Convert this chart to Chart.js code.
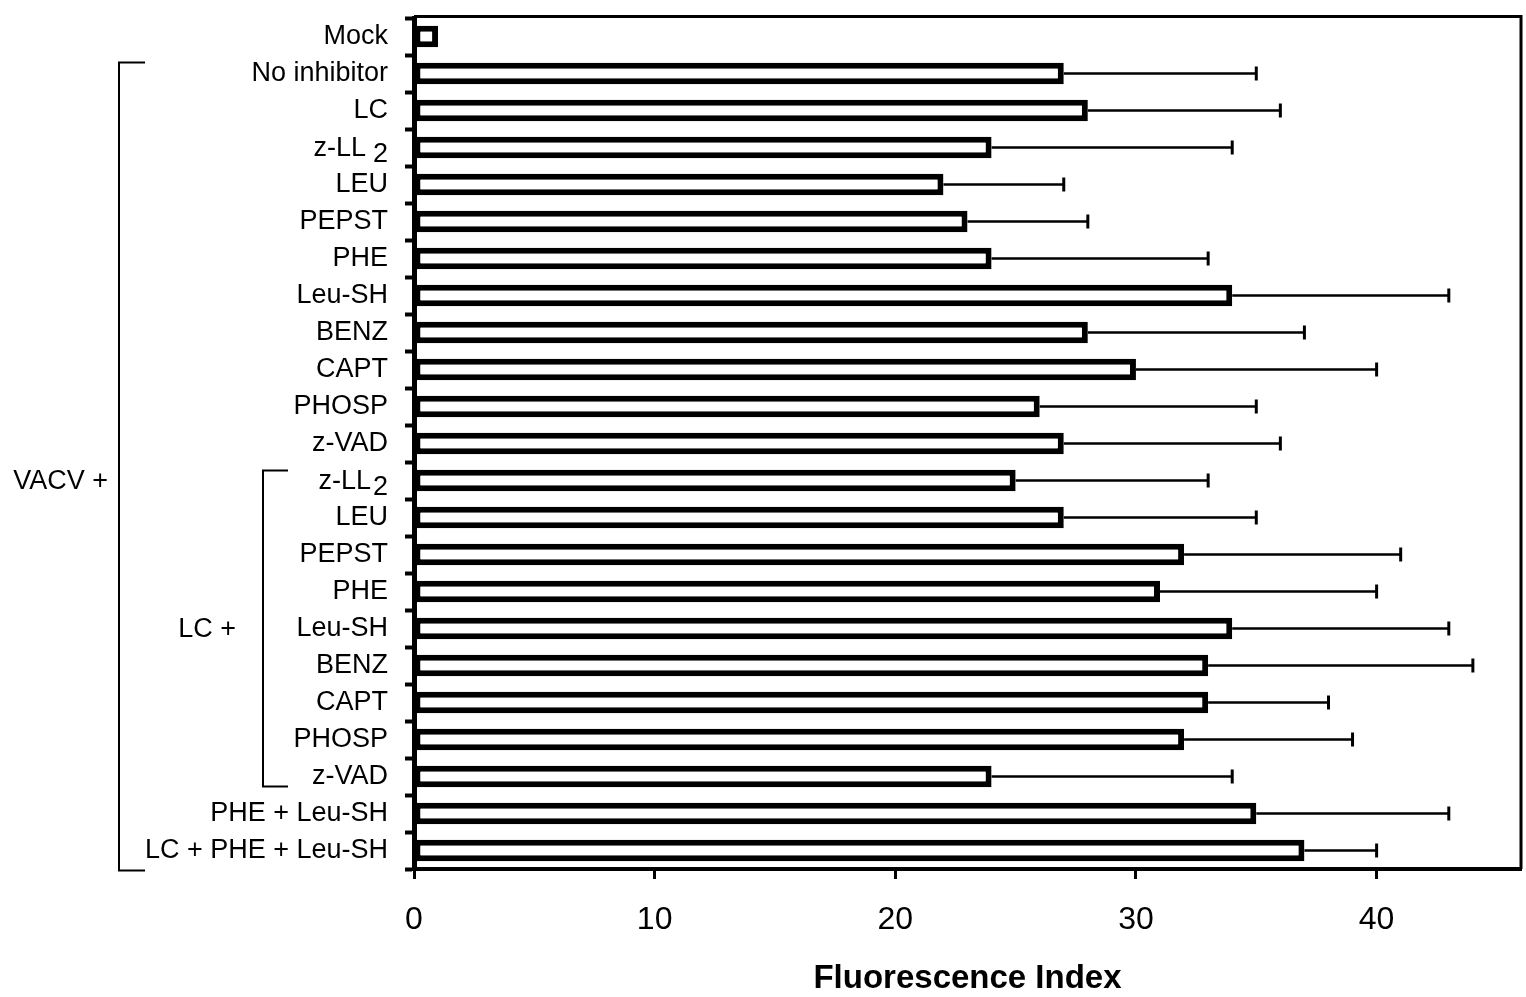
<!DOCTYPE html>
<html>
<head>
<meta charset="utf-8">
<title>Fluorescence Index</title>
<script src="https://cdn.jsdelivr.net/npm/chart.js@4.4.1/dist/chart.umd.min.js"></script>
<style>
    html, body { margin: 0; padding: 0; background: #fff; }
    #wrap { width: 1526px; height: 997px; position: relative; }
</style>
</head>
<body>
<div id="wrap"><canvas id="chart"></canvas></div>
<script>
const categories = ['Mock', 'No inhibitor', 'LC', 'z-LL2', 'LEU', 'PEPST', 'PHE', 'Leu-SH', 'BENZ', 'CAPT', 'PHOSP', 'z-VAD',
    'z-LL2', 'LEU', 'PEPST', 'PHE', 'Leu-SH', 'BENZ', 'CAPT', 'PHOSP', 'z-VAD', 'PHE + Leu-SH', 'LC + PHE + Leu-SH'];
const fluorescence = [1, 27, 28, 24, 22, 23, 24, 34, 28, 30, 26, 27, 25, 27, 32, 31, 34, 33, 33, 32, 24, 35, 37];
const upperError = [null, 35, 36, 34, 27, 28, 33, 43, 37, 40, 35, 36, 33, 35, 41, 40, 43, 44, 38, 39, 34, 43, 40];
const xTicks = [0, 10, 20, 30, 40];

// group brackets: first/last category index and label
const groups = [
    { label: 'VACV +', from: 1, to: 22, labelAt: 12, x: 119, arm: 26, textRight: 108 },
    { label: 'LC +', from: 12, to: 20, labelAt: 16, x: 263, arm: 25, textRight: 236 }
];

const FONT = '"Liberation Sans", Arial, sans-serif';

// category labels, with the trailing 2 of z-LL2 set as a subscript
const labelPlugin = {
    id: 'labels',
    afterDraw(chart) {
        const ctx = chart.ctx;
        const y = chart.scales.y;
        const right = 388;
        ctx.save();
        ctx.fillStyle = '#000';
        ctx.font = '27px ' + FONT;
        ctx.textBaseline = 'middle';
        ctx.textAlign = 'right';
        categories.forEach((name, i) => {
            const py = y.getPixelForValue(i);
            if (name.endsWith('LL2')) {
                const gap = i < 6 ? 7 : 2;
                const w2 = ctx.measureText('2').width;
                ctx.fillText('2', right, py + 7);
                ctx.fillText(name.slice(0, -1), right - w2 - gap, py + 1);
            } else {
                ctx.fillText(name, right, py);
            }
        });

        // brackets and group names
        ctx.strokeStyle = '#000';
        ctx.lineWidth = 2;
        groups.forEach(g => {
            const top = y.getPixelForValue(g.from) - (g.from === 1 ? 11 : 10);
            const bottom = y.getPixelForValue(g.to) + (g.to === 22 ? 20 : 10);
            ctx.beginPath();
            ctx.moveTo(g.x + g.arm, top);
            ctx.lineTo(g.x, top);
            ctx.lineTo(g.x, bottom);
            ctx.lineTo(g.x + g.arm, bottom);
            ctx.stroke();
            ctx.fillText(g.label, g.textRight, y.getPixelForValue(g.labelAt) + 1);
        });
        ctx.restore();
    }
};

// error bars (upper side only) and the top/right frame of the plot
const errorPlugin = {
    id: 'errors',
    afterDatasetsDraw(chart) {
        const ctx = chart.ctx;
        const x = chart.scales.x;
        const y = chart.scales.y;
        ctx.save();
        ctx.strokeStyle = '#000';
        upperError.forEach((hi, i) => {
            if (hi == null) return;
            const x0 = x.getPixelForValue(fluorescence[i]);
            const x1 = x.getPixelForValue(hi);
            const py = y.getPixelForValue(i);
            ctx.lineWidth = 2.5;
            ctx.beginPath();
            ctx.moveTo(x0, py);
            ctx.lineTo(x1, py);
            ctx.stroke();
            ctx.lineWidth = 3;
            ctx.beginPath();
            ctx.moveTo(x1, py - 7);
            ctx.lineTo(x1, py + 7);
            ctx.stroke();
        });
        const a = chart.chartArea;
        ctx.lineWidth = 3;
        ctx.beginPath();
        ctx.moveTo(a.left, a.top - 1.5);
        ctx.lineTo(a.right, a.top - 1.5);
        ctx.lineTo(a.right, a.bottom);
        ctx.stroke();
        ctx.restore();
    }
};

new Chart(document.getElementById('chart'), {
    type: 'bar',
    data: {
        labels: categories,
        datasets: [{
            data: fluorescence,
            backgroundColor: '#fff',
            borderColor: '#000',
            borderWidth: 6,
            borderSkipped: false,
            barPercentage: 0.58,
            categoryPercentage: 1
        }]
    },
    options: {
        indexAxis: 'y',
        responsive: true,
        maintainAspectRatio: false,
        animation: false,
        layout: { padding: { top: 18, right: 5, left: 0, bottom: 0 } },
        plugins: {
            legend: { display: false },
            tooltip: { enabled: false }
        },
        scales: {
            x: {
                min: 0,
                max: 46,
                afterBuildTicks: scale => { scale.ticks = xTicks.map(v => ({ value: v })); },
                afterFit: scale => { scale.height = 128; },
                ticks: {
                    color: '#000',
                    font: { family: FONT, size: 32 },
                    padding: 22,
                    maxRotation: 0
                },
                grid: {
                    drawOnChartArea: false,
                    drawTicks: true,
                    tickLength: 10,
                    tickWidth: 3,
                    tickColor: '#000'
                },
                border: { display: true, color: '#000', width: 4 },
                title: {
                    display: true,
                    text: 'Fluorescence Index',
                    color: '#000',
                    font: { family: FONT, size: 33, weight: 'bold' },
                    padding: { top: 0, bottom: -2 }
                }
            },
            y: {
                afterFit: scale => { scale.width = 414; },
                ticks: { display: false },
                grid: {
                    offset: true,
                    drawOnChartArea: false,
                    drawTicks: true,
                    tickLength: 9,
                    tickWidth: 4,
                    tickColor: '#000'
                },
                border: { display: true, color: '#000', width: 5 }
            }
        }
    },
    plugins: [labelPlugin, errorPlugin]
});
</script>
</body>
</html>
